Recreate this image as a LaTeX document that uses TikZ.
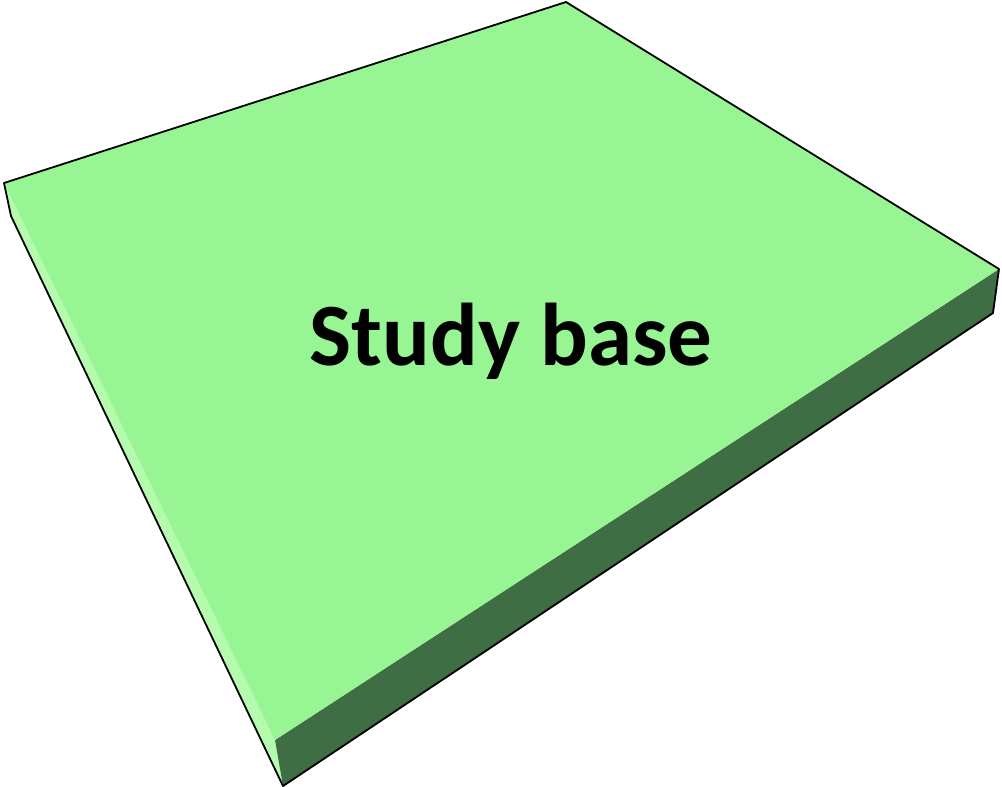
\documentclass[tikz,border=0pt]{standalone}
\usepackage{fontspec}
\setmainfont{Carlito}
\definecolor{topg}{RGB}{152,245,147}
\definecolor{lightg}{RGB}{180,251,174}
\definecolor{darkg}{RGB}{64,110,68}
\tikzset{edge/.style={draw=black,line width=1.8pt,line join=round}}
\begin{document}
\begin{tikzpicture}[x=1pt,y=-1pt]
\useasboundingbox (0,0) rectangle (1002,787);
\coordinate (A) at (4,183);
\coordinate (B) at (566,2);
\coordinate (C) at (999,269);
\coordinate (D) at (275,740);
\coordinate (Ab) at (11,216);
\coordinate (Db) at (283,786);
\coordinate (Cb) at (993,313);
% faces
\fill[lightg] (A) -- (D) -- (Db) -- (Ab) -- cycle;
\fill[darkg] (D) -- (C) -- (Cb) -- (Db) -- cycle;
\fill[topg] (A) -- (B) -- (C) -- (D) -- cycle;
% outline
\draw[edge] (Ab) -- (A) -- (B) -- (C) -- (Cb) -- (Db) -- cycle;
\node[font=\bfseries\fontsize{89}{100}\selectfont,anchor=base] (t) at (511,365) {Study base};
\end{tikzpicture}
\end{document}
